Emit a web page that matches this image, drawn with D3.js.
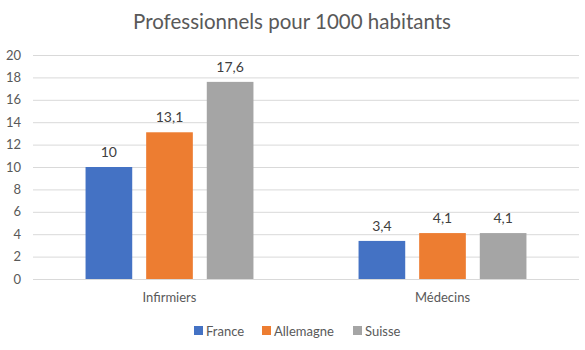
<!DOCTYPE html>
<html>
<head>
<meta charset="utf-8">
<script src="https://cdn.jsdelivr.net/npm/d3@7"></script>
<style>
  html, body { margin: 0; padding: 0; background: #fff; }
  svg { display: block; font-family: Lato, "Open Sans", sans-serif; }
</style>
</head>
<body>
<svg id="chart" width="585" height="350"></svg>
<script>
// Health professionals per 1000 inhabitants
const categories = ["Infirmiers", "Médecins"];
const seriesNames = ["France", "Allemagne", "Suisse"];
const france = [10, 3.4];
const allemagne = [13.1, 4.1];
const suisse = [17.6, 4.1];
const yTicks = [0, 2, 4, 6, 8, 10, 12, 14, 16, 18, 20];
const colors = ["#4472c4", "#ed7d31", "#a5a5a5"];

const values = [france, allemagne, suisse];
const rows = [];
categories.forEach((c, ci) => {
  seriesNames.forEach((s, si) => rows.push({ cat: c, series: s, value: values[si][ci], color: colors[si] }));
});

const svg = d3.select("#chart");

const x0 = d3.scaleBand().domain(categories).range([33, 579])
  .paddingInner(0.385).paddingOuter(0.1925);
const x1 = d3.scaleBand().domain(seriesNames).range([0, x0.bandwidth()])
  .paddingInner(0.23).paddingOuter(0);
const y = d3.scaleLinear().domain([0, 20]).range([279, 55]);

// Title
svg.append("text")
  .attr("x", 292).attr("y", 29)
  .attr("text-anchor", "middle")
  .attr("font-size", 20.5)
  .attr("fill", "#595959")
  .text("Professionnels pour 1000 habitants");

// Gridlines and y labels
const yAxis = d3.axisLeft(y).tickValues(yTicks).tickSize(-(579 - 33)).tickPadding(12)
  .tickFormat(d3.format("d"));
const gy = svg.append("g").attr("transform", "translate(33,0)").call(yAxis);
gy.select(".domain").remove();
gy.selectAll(".tick line").attr("stroke", "#d9d9d9").attr("stroke-width", 1);
gy.selectAll(".tick text").attr("fill", "#595959").attr("font-size", 13).attr("font-family", "Lato, sans-serif");

// Bars
svg.append("g").selectAll("rect").data(rows).join("rect")
  .attr("x", d => x0(d.cat) + x1(d.series))
  .attr("y", d => y(d.value))
  .attr("width", x1.bandwidth())
  .attr("height", d => y(0) - y(d.value))
  .attr("fill", d => d.color);

// Value labels
const fmt = v => String(v).replace(".", ",");
svg.append("g").selectAll("text").data(rows).join("text")
  .attr("x", d => x0(d.cat) + x1(d.series) + x1.bandwidth() / 2)
  .attr("y", d => y(d.value) - 10)
  .attr("text-anchor", "middle")
  .attr("font-size", 14)
  .attr("fill", "#404040")
  .text(d => fmt(d.value));

// Category axis labels
const xAxis = d3.axisBottom(x0).tickSize(0).tickPadding(14);
const gx = svg.append("g").attr("transform", "translate(0,279)").call(xAxis);
gx.select(".domain").remove();
gx.selectAll(".tick text").attr("fill", "#595959").attr("font-size", 13).attr("font-family", "Lato, sans-serif");

// Legend
const legendX = [194, 262, 353];
const lg = svg.append("g").selectAll("g").data(seriesNames).join("g")
  .attr("transform", (d, i) => `translate(${legendX[i]},326)`);
lg.append("rect").attr("width", 9).attr("height", 9).attr("fill", (d, i) => colors[i]);
lg.append("text").attr("x", 12).attr("y", 9.5)
  .attr("font-size", 13).attr("fill", "#595959").text(d => d);
</script>
</body>
</html>
